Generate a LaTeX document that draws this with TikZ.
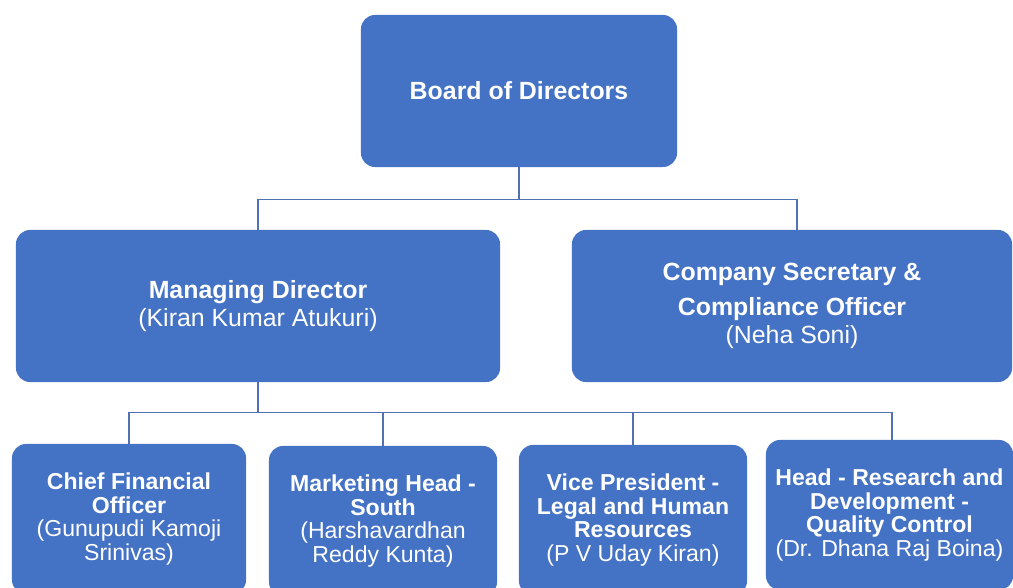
\documentclass[tikz,border=0pt]{standalone}
\usepackage{fontspec}
\setmainfont{Liberation Sans}
\usetikzlibrary{positioning}
\definecolor{boxblue}{RGB}{68,114,196}
\definecolor{lineblue}{RGB}{82,112,180}

\begin{document}
\begin{tikzpicture}[
    x=0.025cm, y=0.025cm,
    % --- node styles ---
    unit/.style={
      rectangle, rounded corners=10pt, fill=boxblue, draw=none,
      text=white, align=center, inner sep=0pt},
    upper/.style={
      unit, minimum height=3.8cm,
      font=\fontsize{17.7}{19.8}\selectfont},
    staff/.style={
      unit, minimum height=3.75cm, minimum width=5.7cm,
      font=\fontsize{16.4}{16.7}\selectfont},
    link/.style={draw=lineblue, line width=1.1pt},
  ]

  \useasboundingbox (0,0) rectangle (1013,-587);
  \clip (0,0) rectangle (1013,-587);

  % ============== TOP LEVEL ==============
  \node[upper, minimum width=7.9cm] (board) at (519,-91)
    {\textbf{Board of Directors}};

  % ============== SECOND LEVEL ==============
  \node[upper, minimum width=12.1cm] (md) at (258,-306)
    {\textbf{Managing Director}\\(Kiran Kumar Atukuri)};
  \node[upper, minimum width=11cm] (cs) at (792,-306)
    {\textbf{Company Secretary \&}\\[5pt]\textbf{Compliance Officer}\\(Neha Soni)};

  % ============== THIRD LEVEL ==============
  \node[staff, minimum width=5.85cm] (cfo) at (129,-519)
    {\textbf{Chief Financial}\\\textbf{Officer}\\(Gunupudi Kamoji\\Srinivas)};
  \node[staff] (mkt) at (383,-521)
    {\textbf{Marketing Head -}\\\textbf{South}\\(Harshavardhan\\Reddy Kunta)};
  \node[staff] (vp) at (633,-520)
    {\textbf{Vice President -}\\\textbf{Legal and Human}\\\textbf{Resources}\\(P V Uday Kiran)};
  \node[staff, minimum width=6.175cm] (rnd) at (889.5,-515)
    {\textbf{Head - Research and}\\\textbf{Development -}\\\textbf{Quality Control}\\(Dr. Dhana Raj Boina)};

  % ============== CONNECTORS ==============
  \draw[link] (board.south) -- ++(0,-32) -| (md.north);
  \draw[link] (board.south) -- ++(0,-32) -| ([xshift=0.125cm]cs.north);

  \draw[link] (md.south) -- ++(0,-30) -| (cfo.north);
  \draw[link] (md.south) -- ++(0,-30) -| (mkt.north);
  \draw[link] (md.south) -- ++(0,-30) -| (vp.north);
  \draw[link] (md.south) -- ++(0,-30) -| ([xshift=0.06cm]rnd.north);

\end{tikzpicture}
\end{document}
